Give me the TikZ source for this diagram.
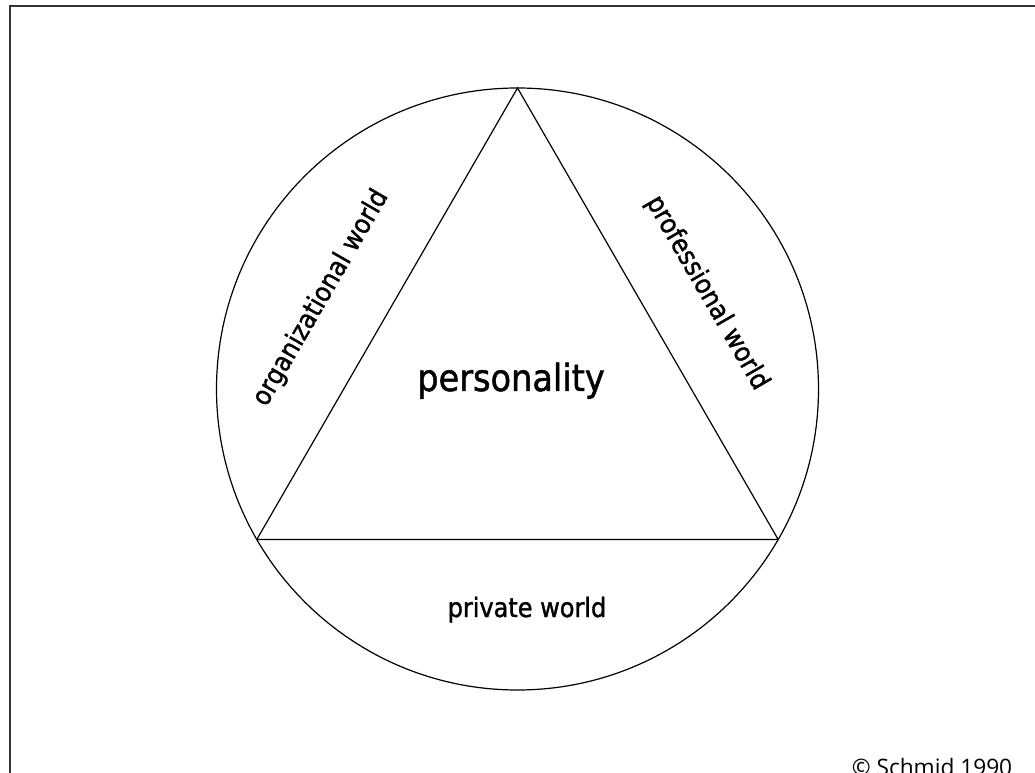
\documentclass[tikz,border=0pt]{standalone}
\usepackage{fontspec}
\setmainfont{DejaVu Sans}[FakeStretch=0.9, FakeBold=1.3]
\newfontfamily\copyfont{Open Sans}
\usetikzlibrary{positioning,calc}

\begin{document}
\begin{tikzpicture}[x=0.75pt, y=0.75pt, line width=0.9pt,
    world/.style={font=\fontsize{20}{24}\selectfont, inner sep=0pt}]
    \useasboundingbox (0,0) rectangle (1035,772);
    % ---- frame
    \draw[line width=1.4pt, black!80] (10,-20) -- (10,766) -- (1060,766);
    % ---- circle with inscribed triangle
    \coordinate (m) at (517.5,383);
    \coordinate (top) at ($(m)+(90:301)$);
    \coordinate (left) at ($(m)+(210:301)$);
    \coordinate (right) at ($(m)+(330:301)$);
    \draw (m) circle[radius=301];
    \draw (top) -- (left) -- (right) -- cycle;
    % ---- labels
    \node[font=\fontsize{28}{32}\selectfont, anchor=base, inner sep=0pt] (pers) at (511,381) {personality};
    \node[world, anchor=base] (priv) at (527,155) {private world};
    \node[world, rotate=60] (org) at (321,474) {organizational world};
    \node[world, rotate=-60] (prof) at (707,479) {professional world};
    \node[font=\copyfont\fontsize{17}{20}\selectfont, anchor=base, inner sep=0pt] (copy) at (932,-3) {© Schmid 1990};
\end{tikzpicture}
\end{document}
